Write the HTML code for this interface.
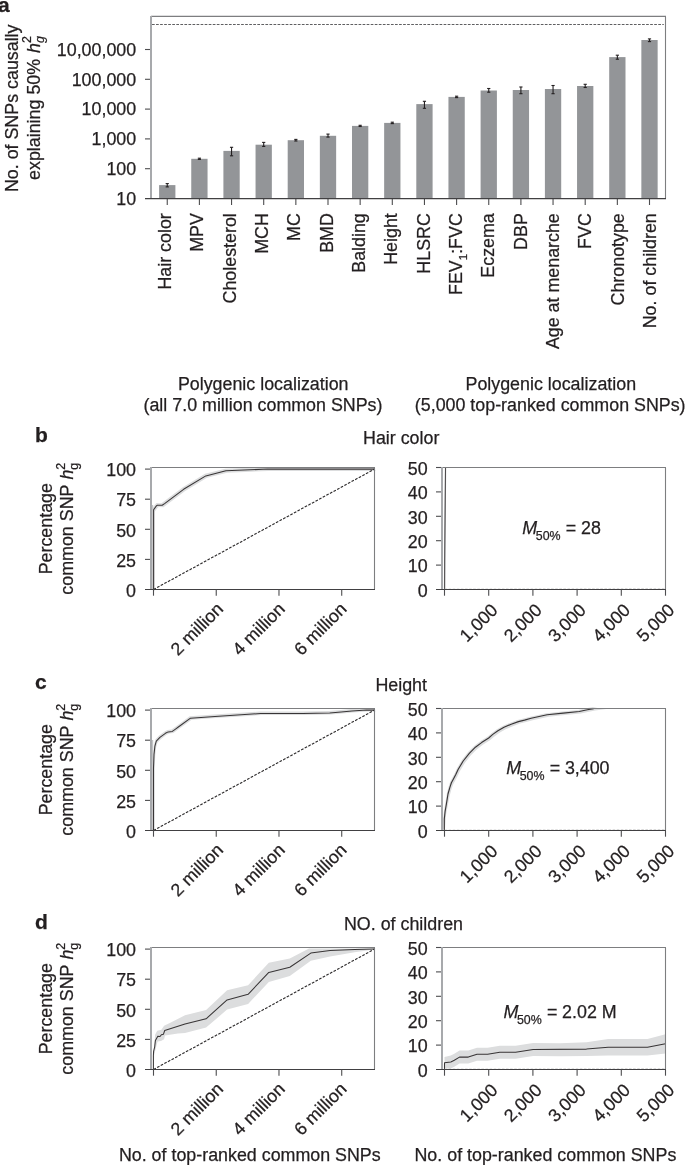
<!DOCTYPE html>
<html><head><meta charset="utf-8"><style>
html,body{margin:0;padding:0;background:#fff;}
body{width:685px;height:1165px;overflow:hidden;}
svg{display:block;will-change:transform;font-family:"Liberation Sans",sans-serif;font-size:17.85px;font-kerning:none;}
svg text{fill:#231f20;stroke:#231f20;stroke-width:0.25px;}
</style></head><body>
<svg width="685" height="1165" viewBox="0 0 685 1165">
<rect width="685" height="1165" fill="#fff"/>
<text x="-2.00" y="11.80" font-size="21" font-weight="bold">a</text>
<line x1="152.00" y1="24.50" x2="663.80" y2="24.50" stroke="#5f5f61" stroke-width="1.1" stroke-dasharray="2.7 1.35"/>
<rect x="159.10" y="185.10" width="16.3" height="13.50" fill="#939598"/>
<line x1="167.25" y1="183.60" x2="167.25" y2="186.90" stroke="#231f20" stroke-width="1.1"/>
<line x1="165.65" y1="183.60" x2="168.85" y2="183.60" stroke="#231f20" stroke-width="1.1"/>
<line x1="165.65" y1="186.90" x2="168.85" y2="186.90" stroke="#231f20" stroke-width="1.1"/>
<line x1="167.25" y1="198.60" x2="167.25" y2="205.00" stroke="#4d4d4f" stroke-width="1.1"/>
<text transform="translate(170.90,213.2) rotate(-90)" text-anchor="end">Hair color</text>
<rect x="191.25" y="158.80" width="16.3" height="39.80" fill="#939598"/>
<line x1="199.40" y1="158.20" x2="199.40" y2="159.40" stroke="#231f20" stroke-width="1.1"/>
<line x1="197.80" y1="158.20" x2="201.00" y2="158.20" stroke="#231f20" stroke-width="1.1"/>
<line x1="197.80" y1="159.40" x2="201.00" y2="159.40" stroke="#231f20" stroke-width="1.1"/>
<line x1="199.40" y1="198.60" x2="199.40" y2="205.00" stroke="#4d4d4f" stroke-width="1.1"/>
<text transform="translate(203.25,213.2) rotate(-90)" text-anchor="end">MPV</text>
<rect x="223.40" y="150.90" width="16.3" height="47.70" fill="#939598"/>
<line x1="231.55" y1="147.30" x2="231.55" y2="155.80" stroke="#231f20" stroke-width="1.1"/>
<line x1="229.95" y1="147.30" x2="233.15" y2="147.30" stroke="#231f20" stroke-width="1.1"/>
<line x1="229.95" y1="155.80" x2="233.15" y2="155.80" stroke="#231f20" stroke-width="1.1"/>
<line x1="231.55" y1="198.60" x2="231.55" y2="205.00" stroke="#4d4d4f" stroke-width="1.1"/>
<text transform="translate(235.60,213.2) rotate(-90)" text-anchor="end">Cholesterol</text>
<rect x="255.55" y="144.70" width="16.3" height="53.90" fill="#939598"/>
<line x1="263.70" y1="142.40" x2="263.70" y2="146.40" stroke="#231f20" stroke-width="1.1"/>
<line x1="262.10" y1="142.40" x2="265.30" y2="142.40" stroke="#231f20" stroke-width="1.1"/>
<line x1="262.10" y1="146.40" x2="265.30" y2="146.40" stroke="#231f20" stroke-width="1.1"/>
<line x1="263.70" y1="198.60" x2="263.70" y2="205.00" stroke="#4d4d4f" stroke-width="1.1"/>
<text transform="translate(267.95,213.2) rotate(-90)" text-anchor="end">MCH</text>
<rect x="287.70" y="140.20" width="16.3" height="58.40" fill="#939598"/>
<line x1="295.85" y1="139.40" x2="295.85" y2="141.00" stroke="#231f20" stroke-width="1.1"/>
<line x1="294.25" y1="139.40" x2="297.45" y2="139.40" stroke="#231f20" stroke-width="1.1"/>
<line x1="294.25" y1="141.00" x2="297.45" y2="141.00" stroke="#231f20" stroke-width="1.1"/>
<line x1="295.85" y1="198.60" x2="295.85" y2="205.00" stroke="#4d4d4f" stroke-width="1.1"/>
<text transform="translate(300.30,213.2) rotate(-90)" text-anchor="end">MC</text>
<rect x="319.85" y="135.80" width="16.3" height="62.80" fill="#939598"/>
<line x1="328.00" y1="134.10" x2="328.00" y2="137.10" stroke="#231f20" stroke-width="1.1"/>
<line x1="326.40" y1="134.10" x2="329.60" y2="134.10" stroke="#231f20" stroke-width="1.1"/>
<line x1="326.40" y1="137.10" x2="329.60" y2="137.10" stroke="#231f20" stroke-width="1.1"/>
<line x1="328.00" y1="198.60" x2="328.00" y2="205.00" stroke="#4d4d4f" stroke-width="1.1"/>
<text transform="translate(332.65,213.2) rotate(-90)" text-anchor="end">BMD</text>
<rect x="352.00" y="125.90" width="16.3" height="72.70" fill="#939598"/>
<line x1="360.15" y1="125.30" x2="360.15" y2="126.50" stroke="#231f20" stroke-width="1.1"/>
<line x1="358.55" y1="125.30" x2="361.75" y2="125.30" stroke="#231f20" stroke-width="1.1"/>
<line x1="358.55" y1="126.50" x2="361.75" y2="126.50" stroke="#231f20" stroke-width="1.1"/>
<line x1="360.15" y1="198.60" x2="360.15" y2="205.00" stroke="#4d4d4f" stroke-width="1.1"/>
<text transform="translate(365.00,213.2) rotate(-90)" text-anchor="end">Balding</text>
<rect x="384.15" y="122.90" width="16.3" height="75.70" fill="#939598"/>
<line x1="392.30" y1="122.20" x2="392.30" y2="123.60" stroke="#231f20" stroke-width="1.1"/>
<line x1="390.70" y1="122.20" x2="393.90" y2="122.20" stroke="#231f20" stroke-width="1.1"/>
<line x1="390.70" y1="123.60" x2="393.90" y2="123.60" stroke="#231f20" stroke-width="1.1"/>
<line x1="392.30" y1="198.60" x2="392.30" y2="205.00" stroke="#4d4d4f" stroke-width="1.1"/>
<text transform="translate(397.35,213.2) rotate(-90)" text-anchor="end">Height</text>
<rect x="416.30" y="104.10" width="16.3" height="94.50" fill="#939598"/>
<line x1="424.45" y1="101.30" x2="424.45" y2="108.30" stroke="#231f20" stroke-width="1.1"/>
<line x1="422.85" y1="101.30" x2="426.05" y2="101.30" stroke="#231f20" stroke-width="1.1"/>
<line x1="422.85" y1="108.30" x2="426.05" y2="108.30" stroke="#231f20" stroke-width="1.1"/>
<line x1="424.45" y1="198.60" x2="424.45" y2="205.00" stroke="#4d4d4f" stroke-width="1.1"/>
<text transform="translate(429.70,213.2) rotate(-90)" text-anchor="end">HLSRC</text>
<rect x="448.45" y="96.90" width="16.3" height="101.70" fill="#939598"/>
<line x1="456.60" y1="96.20" x2="456.60" y2="97.60" stroke="#231f20" stroke-width="1.1"/>
<line x1="455.00" y1="96.20" x2="458.20" y2="96.20" stroke="#231f20" stroke-width="1.1"/>
<line x1="455.00" y1="97.60" x2="458.20" y2="97.60" stroke="#231f20" stroke-width="1.1"/>
<line x1="456.60" y1="198.60" x2="456.60" y2="205.00" stroke="#4d4d4f" stroke-width="1.1"/>
<text transform="translate(462.05,213.2) rotate(-90)" text-anchor="end">FEV<tspan font-size="11.5" dy="5.0">1</tspan><tspan dy="-5.0">:FVC</tspan></text>
<rect x="480.60" y="90.50" width="16.3" height="108.10" fill="#939598"/>
<line x1="488.75" y1="88.50" x2="488.75" y2="92.20" stroke="#231f20" stroke-width="1.1"/>
<line x1="487.15" y1="88.50" x2="490.35" y2="88.50" stroke="#231f20" stroke-width="1.1"/>
<line x1="487.15" y1="92.20" x2="490.35" y2="92.20" stroke="#231f20" stroke-width="1.1"/>
<line x1="488.75" y1="198.60" x2="488.75" y2="205.00" stroke="#4d4d4f" stroke-width="1.1"/>
<text transform="translate(494.40,213.2) rotate(-90)" text-anchor="end">Eczema</text>
<rect x="512.75" y="90.00" width="16.3" height="108.60" fill="#939598"/>
<line x1="520.90" y1="87.00" x2="520.90" y2="93.70" stroke="#231f20" stroke-width="1.1"/>
<line x1="519.30" y1="87.00" x2="522.50" y2="87.00" stroke="#231f20" stroke-width="1.1"/>
<line x1="519.30" y1="93.70" x2="522.50" y2="93.70" stroke="#231f20" stroke-width="1.1"/>
<line x1="520.90" y1="198.60" x2="520.90" y2="205.00" stroke="#4d4d4f" stroke-width="1.1"/>
<text transform="translate(526.75,213.2) rotate(-90)" text-anchor="end">DBP</text>
<rect x="544.90" y="89.00" width="16.3" height="109.60" fill="#939598"/>
<line x1="553.05" y1="85.50" x2="553.05" y2="93.70" stroke="#231f20" stroke-width="1.1"/>
<line x1="551.45" y1="85.50" x2="554.65" y2="85.50" stroke="#231f20" stroke-width="1.1"/>
<line x1="551.45" y1="93.70" x2="554.65" y2="93.70" stroke="#231f20" stroke-width="1.1"/>
<line x1="553.05" y1="198.60" x2="553.05" y2="205.00" stroke="#4d4d4f" stroke-width="1.1"/>
<text transform="translate(559.10,213.2) rotate(-90)" text-anchor="end">Age at menarche</text>
<rect x="577.05" y="86.00" width="16.3" height="112.60" fill="#939598"/>
<line x1="585.20" y1="84.30" x2="585.20" y2="87.50" stroke="#231f20" stroke-width="1.1"/>
<line x1="583.60" y1="84.30" x2="586.80" y2="84.30" stroke="#231f20" stroke-width="1.1"/>
<line x1="583.60" y1="87.50" x2="586.80" y2="87.50" stroke="#231f20" stroke-width="1.1"/>
<line x1="585.20" y1="198.60" x2="585.20" y2="205.00" stroke="#4d4d4f" stroke-width="1.1"/>
<text transform="translate(591.45,213.2) rotate(-90)" text-anchor="end">FVC</text>
<rect x="609.20" y="57.10" width="16.3" height="141.50" fill="#939598"/>
<line x1="617.35" y1="55.20" x2="617.35" y2="59.20" stroke="#231f20" stroke-width="1.1"/>
<line x1="615.75" y1="55.20" x2="618.95" y2="55.20" stroke="#231f20" stroke-width="1.1"/>
<line x1="615.75" y1="59.20" x2="618.95" y2="59.20" stroke="#231f20" stroke-width="1.1"/>
<line x1="617.35" y1="198.60" x2="617.35" y2="205.00" stroke="#4d4d4f" stroke-width="1.1"/>
<text transform="translate(623.80,213.2) rotate(-90)" text-anchor="end">Chronotype</text>
<rect x="641.35" y="40.00" width="16.3" height="158.60" fill="#939598"/>
<line x1="649.50" y1="38.90" x2="649.50" y2="41.60" stroke="#231f20" stroke-width="1.1"/>
<line x1="647.90" y1="38.90" x2="651.10" y2="38.90" stroke="#231f20" stroke-width="1.1"/>
<line x1="647.90" y1="41.60" x2="651.10" y2="41.60" stroke="#231f20" stroke-width="1.1"/>
<line x1="649.50" y1="198.60" x2="649.50" y2="205.00" stroke="#4d4d4f" stroke-width="1.1"/>
<text transform="translate(656.15,213.2) rotate(-90)" text-anchor="end">No. of children</text>
<line x1="151.00" y1="16.40" x2="666.00" y2="16.40" stroke="#7d7e80" stroke-width="1.1"/>
<line x1="665.50" y1="16.40" x2="665.50" y2="198.60" stroke="#7d7e80" stroke-width="1.1"/>
<line x1="151.00" y1="15.90" x2="151.00" y2="198.60" stroke="#a7a9ac" stroke-width="2.0"/>
<line x1="145.00" y1="198.60" x2="666.00" y2="198.60" stroke="#414042" stroke-width="1.15"/>
<text x="136.20" y="204.80" text-anchor="end">10</text>
<line x1="145.00" y1="168.70" x2="150.00" y2="168.70" stroke="#4d4d4f" stroke-width="1.1"/>
<text x="136.20" y="175.00" text-anchor="end">100</text>
<line x1="145.00" y1="138.90" x2="150.00" y2="138.90" stroke="#4d4d4f" stroke-width="1.1"/>
<text x="136.20" y="145.20" text-anchor="end">1,000</text>
<line x1="145.00" y1="109.10" x2="150.00" y2="109.10" stroke="#4d4d4f" stroke-width="1.1"/>
<text x="136.20" y="115.40" text-anchor="end">10,000</text>
<line x1="145.00" y1="79.30" x2="150.00" y2="79.30" stroke="#4d4d4f" stroke-width="1.1"/>
<text x="136.20" y="85.60" text-anchor="end">100,000</text>
<line x1="145.00" y1="49.50" x2="150.00" y2="49.50" stroke="#4d4d4f" stroke-width="1.1"/>
<text x="136.20" y="55.80" text-anchor="end">10,00,000</text>
<text transform="translate(18.1,108.3) rotate(-90)" text-anchor="middle">No. of SNPs causally</text>
<text transform="translate(39.8,108.0) rotate(-90)" text-anchor="middle">explaining 50% <tspan font-style="italic" dx="1.0">h</tspan><tspan font-size="12.4" dy="-8.5">2</tspan><tspan font-size="12.4" font-style="italic" dy="12.5" dx="-6.9">g</tspan></text>
<text x="263.20" y="390.20" text-anchor="middle">Polygenic localization</text>
<text x="263.00" y="411.40" text-anchor="middle">(all 7.0 million common SNPs)</text>
<text x="550.80" y="390.20" text-anchor="middle">Polygenic localization</text>
<text x="550.20" y="411.40" text-anchor="middle">(5,000 top-ranked common SNPs)</text>
<text x="35.00" y="441.90" font-size="21" font-weight="bold">b</text>
<text x="401.20" y="444.20" text-anchor="middle">Hair color</text>
<rect x="152" y="505" width="1.2" height="84.5" fill="#c4c5c7"/><path d="M152.80,587.40 L152.80,507.70 L153.60,506.50 L154.50,505.30 L155.50,503.90 L156.60,503.10 L161.40,503.20 L163.80,501.50 L182.80,487.20 L205.00,473.80 L225.10,468.70 L249.20,467.70 L266.80,467.00 L373.70,467.00 L375.70,471.00 L268.80,471.00 L251.20,471.70 L227.10,472.70 L207.00,477.80 L184.80,491.20 L165.80,505.50 L163.40,507.20 L158.60,507.10 L157.50,507.90 L156.50,509.30 L155.60,510.50 L154.80,511.70 L154.80,591.40 Z" fill="#dcddde" stroke="none"/><path d="M153.60,589.50 L153.60,509.80 L154.40,508.60 L155.30,507.40 L156.30,506.00 L157.40,505.20 L162.20,505.30 L164.60,503.60 L183.60,489.30 L205.80,475.90 L225.90,470.80 L250.00,469.80 L267.60,469.10 L374.50,469.10" fill="none" stroke="#383536" stroke-width="1.05" stroke-linejoin="round"/>
<line x1="153.50" y1="589.50" x2="374.50" y2="469.10" stroke="#2e2c2d" stroke-width="1.15" stroke-dasharray="2.7 1.4"/>
<line x1="151.00" y1="467.50" x2="375.00" y2="467.50" stroke="#7d7e80" stroke-width="1.1"/>
<line x1="374.50" y1="467.50" x2="374.50" y2="589.50" stroke="#7d7e80" stroke-width="1.1"/>
<line x1="151.00" y1="467.00" x2="151.00" y2="589.50" stroke="#a7a9ac" stroke-width="2.0"/>
<line x1="145.00" y1="589.50" x2="375.00" y2="589.50" stroke="#414042" stroke-width="1.15"/>
<text x="136.00" y="596.70" text-anchor="end">0</text>
<line x1="145.00" y1="559.40" x2="150.00" y2="559.40" stroke="#4d4d4f" stroke-width="1.1"/>
<text x="136.00" y="566.60" text-anchor="end">25</text>
<line x1="145.00" y1="529.30" x2="150.00" y2="529.30" stroke="#4d4d4f" stroke-width="1.1"/>
<text x="136.00" y="536.50" text-anchor="end">50</text>
<line x1="145.00" y1="499.20" x2="150.00" y2="499.20" stroke="#4d4d4f" stroke-width="1.1"/>
<text x="136.00" y="506.40" text-anchor="end">75</text>
<line x1="145.00" y1="469.10" x2="150.00" y2="469.10" stroke="#4d4d4f" stroke-width="1.1"/>
<text x="136.00" y="476.30" text-anchor="end">100</text>
<line x1="153.50" y1="589.50" x2="153.50" y2="595.70" stroke="#4d4d4f" stroke-width="1.1"/>
<line x1="216.24" y1="589.50" x2="216.24" y2="595.70" stroke="#4d4d4f" stroke-width="1.1"/>
<text transform="translate(224.34,610.10) rotate(-45)" text-anchor="end">2 million</text>
<line x1="278.98" y1="589.50" x2="278.98" y2="595.70" stroke="#4d4d4f" stroke-width="1.1"/>
<text transform="translate(286.08,610.10) rotate(-45)" text-anchor="end">4 million</text>
<line x1="341.72" y1="589.50" x2="341.72" y2="595.70" stroke="#4d4d4f" stroke-width="1.1"/>
<text transform="translate(347.82,610.10) rotate(-45)" text-anchor="end">6 million</text>
<text transform="translate(52.0,528.70) rotate(-90)" text-anchor="middle">Percentage</text>
<text transform="translate(73.2,528.70) rotate(-90)" text-anchor="middle">common SNP <tspan font-style="italic">h</tspan><tspan font-size="12.4" dy="-8">2</tspan><tspan font-size="12.4" dy="12.8" dx="-6.9">g</tspan></text>
<path d="M443.9,589.5 L444.2,540 L444.9,468 L446.2,468 L445.6,540 L445.2,589.5 Z" fill="#b8b9bb"/><path d="M444.60,589.50 L444.70,560.00 L445.50,468.00" fill="none" stroke="#4a4748" stroke-width="1.0" stroke-linejoin="round"/>
<line x1="444.50" y1="589.20" x2="665.50" y2="588.90" stroke="#b0b0b0" stroke-width="0.8" stroke-dasharray="2.6 1.5"/>
<line x1="442.00" y1="467.50" x2="666.00" y2="467.50" stroke="#7d7e80" stroke-width="1.1"/>
<line x1="665.50" y1="467.50" x2="665.50" y2="589.50" stroke="#7d7e80" stroke-width="1.1"/>
<line x1="442.00" y1="467.00" x2="442.00" y2="589.50" stroke="#a7a9ac" stroke-width="2.0"/>
<line x1="436.00" y1="589.50" x2="666.00" y2="589.50" stroke="#414042" stroke-width="1.15"/>
<text x="427.70" y="596.70" text-anchor="end">0</text>
<line x1="436.00" y1="565.10" x2="441.00" y2="565.10" stroke="#4d4d4f" stroke-width="1.1"/>
<text x="427.70" y="572.30" text-anchor="end">10</text>
<line x1="436.00" y1="540.70" x2="441.00" y2="540.70" stroke="#4d4d4f" stroke-width="1.1"/>
<text x="427.70" y="547.90" text-anchor="end">20</text>
<line x1="436.00" y1="516.30" x2="441.00" y2="516.30" stroke="#4d4d4f" stroke-width="1.1"/>
<text x="427.70" y="523.50" text-anchor="end">30</text>
<line x1="436.00" y1="491.90" x2="441.00" y2="491.90" stroke="#4d4d4f" stroke-width="1.1"/>
<text x="427.70" y="499.10" text-anchor="end">40</text>
<line x1="436.00" y1="467.50" x2="441.00" y2="467.50" stroke="#4d4d4f" stroke-width="1.1"/>
<text x="427.70" y="474.70" text-anchor="end">50</text>
<line x1="444.50" y1="589.50" x2="444.50" y2="595.70" stroke="#4d4d4f" stroke-width="1.1"/>
<line x1="488.70" y1="589.50" x2="488.70" y2="595.70" stroke="#4d4d4f" stroke-width="1.1"/>
<text transform="translate(498.70,611.30) rotate(-45)" text-anchor="end">1,000</text>
<line x1="532.90" y1="589.50" x2="532.90" y2="595.70" stroke="#4d4d4f" stroke-width="1.1"/>
<text transform="translate(542.90,611.30) rotate(-45)" text-anchor="end">2,000</text>
<line x1="577.10" y1="589.50" x2="577.10" y2="595.70" stroke="#4d4d4f" stroke-width="1.1"/>
<text transform="translate(587.10,611.30) rotate(-45)" text-anchor="end">3,000</text>
<line x1="621.30" y1="589.50" x2="621.30" y2="595.70" stroke="#4d4d4f" stroke-width="1.1"/>
<text transform="translate(631.30,611.30) rotate(-45)" text-anchor="end">4,000</text>
<line x1="665.50" y1="589.50" x2="665.50" y2="595.70" stroke="#4d4d4f" stroke-width="1.1"/>
<text transform="translate(675.50,611.30) rotate(-45)" text-anchor="end">5,000</text>
<text x="522.30" y="533.90" font-style="italic">M</text>
<text x="535.80" y="539.70" font-size="12.4">50%</text>
<text x="565.80" y="533.90">=</text>
<text x="581.00" y="533.90">28</text>
<text x="35.00" y="689.40" font-size="21" font-weight="bold">c</text>
<text x="401.20" y="690.70" text-anchor="middle">Height</text>
<rect x="152" y="740" width="1.2" height="90.5" fill="#c4c5c7"/><path d="M152.70,828.60 L152.70,766.10 L153.00,758.10 L153.20,752.50 L154.10,744.20 L155.50,739.20 L159.10,735.50 L164.60,731.40 L167.40,730.00 L171.50,729.50 L174.70,727.20 L177.20,725.40 L189.70,716.30 L214.20,714.60 L259.80,711.60 L301.90,711.60 L328.90,711.10 L340.30,710.00 L351.10,709.00 L365.70,708.20 L373.70,708.20 L375.70,711.60 L367.70,711.60 L353.10,712.40 L342.30,713.40 L330.90,714.50 L303.90,715.00 L261.80,715.00 L216.20,718.00 L191.70,719.70 L179.20,728.80 L176.70,730.60 L173.50,732.90 L169.40,733.40 L166.60,734.80 L161.10,738.90 L157.50,742.60 L156.10,747.60 L155.20,755.90 L155.00,761.50 L154.70,769.50 L154.70,832.00 Z" fill="#dcddde" stroke="none"/><path d="M153.50,830.50 L153.50,768.00 L153.80,760.00 L154.00,754.40 L154.90,746.10 L156.30,741.10 L159.90,737.40 L165.40,733.30 L168.20,731.90 L172.30,731.40 L175.50,729.10 L178.00,727.30 L190.50,718.20 L215.00,716.50 L260.60,713.50 L302.70,713.50 L329.70,713.00 L341.10,711.90 L351.90,710.90 L366.50,710.10 L374.50,710.10" fill="none" stroke="#383536" stroke-width="1.05" stroke-linejoin="round"/>
<line x1="153.50" y1="830.50" x2="374.50" y2="710.10" stroke="#2e2c2d" stroke-width="1.15" stroke-dasharray="2.7 1.4"/>
<line x1="151.00" y1="708.50" x2="375.00" y2="708.50" stroke="#7d7e80" stroke-width="1.1"/>
<line x1="374.50" y1="708.50" x2="374.50" y2="830.50" stroke="#7d7e80" stroke-width="1.1"/>
<line x1="151.00" y1="708.00" x2="151.00" y2="830.50" stroke="#a7a9ac" stroke-width="2.0"/>
<line x1="145.00" y1="830.50" x2="375.00" y2="830.50" stroke="#414042" stroke-width="1.15"/>
<text x="136.00" y="837.70" text-anchor="end">0</text>
<line x1="145.00" y1="800.40" x2="150.00" y2="800.40" stroke="#4d4d4f" stroke-width="1.1"/>
<text x="136.00" y="807.60" text-anchor="end">25</text>
<line x1="145.00" y1="770.30" x2="150.00" y2="770.30" stroke="#4d4d4f" stroke-width="1.1"/>
<text x="136.00" y="777.50" text-anchor="end">50</text>
<line x1="145.00" y1="740.20" x2="150.00" y2="740.20" stroke="#4d4d4f" stroke-width="1.1"/>
<text x="136.00" y="747.40" text-anchor="end">75</text>
<line x1="145.00" y1="710.10" x2="150.00" y2="710.10" stroke="#4d4d4f" stroke-width="1.1"/>
<text x="136.00" y="717.30" text-anchor="end">100</text>
<line x1="153.50" y1="830.50" x2="153.50" y2="836.70" stroke="#4d4d4f" stroke-width="1.1"/>
<line x1="216.24" y1="830.50" x2="216.24" y2="836.70" stroke="#4d4d4f" stroke-width="1.1"/>
<text transform="translate(224.34,851.10) rotate(-45)" text-anchor="end">2 million</text>
<line x1="278.98" y1="830.50" x2="278.98" y2="836.70" stroke="#4d4d4f" stroke-width="1.1"/>
<text transform="translate(286.08,851.10) rotate(-45)" text-anchor="end">4 million</text>
<line x1="341.72" y1="830.50" x2="341.72" y2="836.70" stroke="#4d4d4f" stroke-width="1.1"/>
<text transform="translate(347.82,851.10) rotate(-45)" text-anchor="end">6 million</text>
<text transform="translate(52.0,769.70) rotate(-90)" text-anchor="middle">Percentage</text>
<text transform="translate(73.2,769.70) rotate(-90)" text-anchor="middle">common SNP <tspan font-style="italic">h</tspan><tspan font-size="12.4" dy="-8">2</tspan><tspan font-size="12.4" dy="12.8" dx="-6.9">g</tspan></text>
<path d="M443.30,829.00 L443.30,817.50 L444.10,810.00 L445.40,802.50 L447.00,792.50 L448.80,786.10 L450.40,781.30 L452.30,777.80 L454.80,773.10 L457.10,768.00 L462.20,759.50 L468.30,751.80 L474.40,745.70 L480.60,741.10 L487.70,736.50 L491.80,732.90 L496.90,729.30 L503.00,725.80 L510.20,722.70 L517.40,720.10 L523.50,718.60 L530.10,716.80 L546.10,713.30 L562.20,711.60 L578.20,710.00 L586.30,708.30 L592.70,707.10 L600.00,708.40 L609.70,708.40 L595.30,710.60 L588.90,711.80 L580.80,713.50 L564.80,715.10 L548.70,716.80 L532.70,720.30 L526.10,722.10 L520.00,723.60 L512.80,726.20 L505.60,729.30 L499.50,732.80 L494.40,736.40 L490.30,740.00 L483.20,744.60 L477.00,749.20 L470.90,755.30 L464.80,763.00 L459.70,771.50 L457.40,776.60 L454.90,781.30 L453.00,784.80 L451.40,789.60 L449.60,796.00 L446.00,815.00 L444.90,830.50 Z" fill="#dcddde" stroke="none"/><path d="M444.30,830.50 L444.30,819.00 L445.10,811.50 L446.40,804.00 L448.00,794.00 L449.80,787.60 L451.40,782.80 L453.30,779.30 L455.80,774.60 L458.10,769.50 L463.20,761.00 L469.30,753.30 L475.40,747.20 L481.60,742.60 L488.70,738.00 L492.80,734.40 L497.90,730.80 L504.00,727.30 L511.20,724.20 L518.40,721.60 L524.50,720.10 L531.10,718.30 L547.10,714.80 L563.20,713.10 L579.20,711.50 L587.30,709.80 L593.70,708.60" fill="none" stroke="#383536" stroke-width="1.15" stroke-linejoin="round"/>
<line x1="444.50" y1="830.20" x2="665.50" y2="829.90" stroke="#b0b0b0" stroke-width="0.8" stroke-dasharray="2.6 1.5"/>
<line x1="442.00" y1="708.50" x2="666.00" y2="708.50" stroke="#7d7e80" stroke-width="1.1"/>
<line x1="665.50" y1="708.50" x2="665.50" y2="830.50" stroke="#7d7e80" stroke-width="1.1"/>
<line x1="442.00" y1="708.00" x2="442.00" y2="830.50" stroke="#a7a9ac" stroke-width="2.0"/>
<line x1="436.00" y1="830.50" x2="666.00" y2="830.50" stroke="#414042" stroke-width="1.15"/>
<text x="427.70" y="837.70" text-anchor="end">0</text>
<line x1="436.00" y1="806.10" x2="441.00" y2="806.10" stroke="#4d4d4f" stroke-width="1.1"/>
<text x="427.70" y="813.30" text-anchor="end">10</text>
<line x1="436.00" y1="781.70" x2="441.00" y2="781.70" stroke="#4d4d4f" stroke-width="1.1"/>
<text x="427.70" y="788.90" text-anchor="end">20</text>
<line x1="436.00" y1="757.30" x2="441.00" y2="757.30" stroke="#4d4d4f" stroke-width="1.1"/>
<text x="427.70" y="764.50" text-anchor="end">30</text>
<line x1="436.00" y1="732.90" x2="441.00" y2="732.90" stroke="#4d4d4f" stroke-width="1.1"/>
<text x="427.70" y="740.10" text-anchor="end">40</text>
<line x1="436.00" y1="708.50" x2="441.00" y2="708.50" stroke="#4d4d4f" stroke-width="1.1"/>
<text x="427.70" y="715.70" text-anchor="end">50</text>
<line x1="444.50" y1="830.50" x2="444.50" y2="836.70" stroke="#4d4d4f" stroke-width="1.1"/>
<line x1="488.70" y1="830.50" x2="488.70" y2="836.70" stroke="#4d4d4f" stroke-width="1.1"/>
<text transform="translate(498.70,852.30) rotate(-45)" text-anchor="end">1,000</text>
<line x1="532.90" y1="830.50" x2="532.90" y2="836.70" stroke="#4d4d4f" stroke-width="1.1"/>
<text transform="translate(542.90,852.30) rotate(-45)" text-anchor="end">2,000</text>
<line x1="577.10" y1="830.50" x2="577.10" y2="836.70" stroke="#4d4d4f" stroke-width="1.1"/>
<text transform="translate(587.10,852.30) rotate(-45)" text-anchor="end">3,000</text>
<line x1="621.30" y1="830.50" x2="621.30" y2="836.70" stroke="#4d4d4f" stroke-width="1.1"/>
<text transform="translate(631.30,852.30) rotate(-45)" text-anchor="end">4,000</text>
<line x1="665.50" y1="830.50" x2="665.50" y2="836.70" stroke="#4d4d4f" stroke-width="1.1"/>
<text transform="translate(675.50,852.30) rotate(-45)" text-anchor="end">5,000</text>
<text x="506.20" y="774.40" font-style="italic">M</text>
<text x="519.70" y="780.20" font-size="12.4">50%</text>
<text x="549.70" y="774.40">=</text>
<text x="564.90" y="774.40">3,400</text>
<text x="35.00" y="929.00" font-size="21" font-weight="bold">d</text>
<text x="403.50" y="930.20" text-anchor="middle">NO. of children</text>
<path d="M153.20,1069.50 L153.40,1060.00 L155.10,1034.70 L157.20,1030.70 L161.40,1029.80 L164.10,1025.80 L170.30,1022.70 L175.70,1020.00 L185.00,1015.30 L206.10,1010.10 L227.10,990.30 L248.10,985.20 L268.80,962.80 L289.80,958.40 L309.00,948.60 L374.50,948.40 L374.50,949.40 L354.60,952.30 L330.10,956.60 L310.80,960.70 L289.80,975.90 L268.80,982.00 L248.10,1003.90 L227.10,1009.60 L206.10,1027.60 L185.00,1032.90 L177.90,1033.60 L165.00,1035.60 L164.10,1039.20 L161.00,1041.00 L157.60,1041.40 L156.50,1045.40 L154.20,1055.00 L153.80,1069.50 Z" fill="#dcddde" stroke="none"/><path d="M153.40,1069.50 L153.40,1055.70 L153.60,1051.30 L154.70,1046.80 L155.40,1040.50 L157.40,1037.00 L157.60,1036.30 L160.00,1036.50 L161.40,1034.70 L163.40,1034.30 L164.70,1030.50 L185.00,1024.10 L206.10,1018.80 L227.10,999.90 L248.10,994.30 L268.80,972.40 L289.80,967.20 L310.80,953.10 L330.10,950.60 L354.60,949.60 L374.50,949.10" fill="none" stroke="#383536" stroke-width="1.05" stroke-linejoin="round"/>
<line x1="153.50" y1="1069.50" x2="374.50" y2="949.10" stroke="#2e2c2d" stroke-width="1.15" stroke-dasharray="2.7 1.4"/>
<line x1="151.00" y1="947.50" x2="375.00" y2="947.50" stroke="#7d7e80" stroke-width="1.1"/>
<line x1="374.50" y1="947.50" x2="374.50" y2="1069.50" stroke="#7d7e80" stroke-width="1.1"/>
<line x1="151.00" y1="947.00" x2="151.00" y2="1069.50" stroke="#a7a9ac" stroke-width="2.0"/>
<line x1="145.00" y1="1069.50" x2="375.00" y2="1069.50" stroke="#414042" stroke-width="1.15"/>
<text x="136.00" y="1076.70" text-anchor="end">0</text>
<line x1="145.00" y1="1039.40" x2="150.00" y2="1039.40" stroke="#4d4d4f" stroke-width="1.1"/>
<text x="136.00" y="1046.60" text-anchor="end">25</text>
<line x1="145.00" y1="1009.30" x2="150.00" y2="1009.30" stroke="#4d4d4f" stroke-width="1.1"/>
<text x="136.00" y="1016.50" text-anchor="end">50</text>
<line x1="145.00" y1="979.20" x2="150.00" y2="979.20" stroke="#4d4d4f" stroke-width="1.1"/>
<text x="136.00" y="986.40" text-anchor="end">75</text>
<line x1="145.00" y1="949.10" x2="150.00" y2="949.10" stroke="#4d4d4f" stroke-width="1.1"/>
<text x="136.00" y="956.30" text-anchor="end">100</text>
<line x1="153.50" y1="1069.50" x2="153.50" y2="1075.70" stroke="#4d4d4f" stroke-width="1.1"/>
<line x1="216.24" y1="1069.50" x2="216.24" y2="1075.70" stroke="#4d4d4f" stroke-width="1.1"/>
<text transform="translate(224.34,1090.10) rotate(-45)" text-anchor="end">2 million</text>
<line x1="278.98" y1="1069.50" x2="278.98" y2="1075.70" stroke="#4d4d4f" stroke-width="1.1"/>
<text transform="translate(286.08,1090.10) rotate(-45)" text-anchor="end">4 million</text>
<line x1="341.72" y1="1069.50" x2="341.72" y2="1075.70" stroke="#4d4d4f" stroke-width="1.1"/>
<text transform="translate(347.82,1090.10) rotate(-45)" text-anchor="end">6 million</text>
<text transform="translate(52.0,1008.70) rotate(-90)" text-anchor="middle">Percentage</text>
<text transform="translate(73.2,1008.70) rotate(-90)" text-anchor="middle">common SNP <tspan font-style="italic">h</tspan><tspan font-size="12.4" dy="-8">2</tspan><tspan font-size="12.4" dy="12.8" dx="-6.9">g</tspan></text>
<path d="M444.50,1057.00 L450.80,1055.50 L454.30,1053.80 L459.50,1050.60 L468.30,1050.60 L477.00,1047.80 L487.60,1047.80 L499.80,1045.70 L515.60,1045.70 L533.10,1042.90 L560.00,1043.30 L586.50,1042.30 L608.20,1039.10 L647.50,1039.10 L665.50,1034.30 L665.50,1053.60 L647.50,1055.50 L608.20,1055.50 L586.50,1056.00 L560.00,1056.20 L533.10,1055.90 L515.60,1058.70 L499.80,1058.70 L487.60,1060.80 L477.00,1060.80 L468.30,1063.60 L459.50,1063.60 L454.30,1066.80 L450.80,1068.50 L444.50,1068.20 Z" fill="#dcddde" stroke="none"/><path d="M444.50,1069.50 L444.50,1062.70 L450.80,1062.00 L454.30,1060.30 L459.50,1057.10 L468.30,1057.10 L477.00,1054.30 L487.60,1054.30 L499.80,1052.20 L515.60,1052.20 L533.10,1049.40 L586.50,1049.10 L608.20,1047.20 L647.50,1047.20 L665.50,1043.80" fill="none" stroke="#383536" stroke-width="1.05" stroke-linejoin="round"/>
<line x1="444.50" y1="1069.20" x2="665.50" y2="1068.90" stroke="#b0b0b0" stroke-width="0.8" stroke-dasharray="2.6 1.5"/>
<line x1="442.00" y1="947.50" x2="666.00" y2="947.50" stroke="#7d7e80" stroke-width="1.1"/>
<line x1="665.50" y1="947.50" x2="665.50" y2="1069.50" stroke="#7d7e80" stroke-width="1.1"/>
<line x1="442.00" y1="947.00" x2="442.00" y2="1069.50" stroke="#a7a9ac" stroke-width="2.0"/>
<line x1="436.00" y1="1069.50" x2="666.00" y2="1069.50" stroke="#414042" stroke-width="1.15"/>
<text x="427.70" y="1076.70" text-anchor="end">0</text>
<line x1="436.00" y1="1045.10" x2="441.00" y2="1045.10" stroke="#4d4d4f" stroke-width="1.1"/>
<text x="427.70" y="1052.30" text-anchor="end">10</text>
<line x1="436.00" y1="1020.70" x2="441.00" y2="1020.70" stroke="#4d4d4f" stroke-width="1.1"/>
<text x="427.70" y="1027.90" text-anchor="end">20</text>
<line x1="436.00" y1="996.30" x2="441.00" y2="996.30" stroke="#4d4d4f" stroke-width="1.1"/>
<text x="427.70" y="1003.50" text-anchor="end">30</text>
<line x1="436.00" y1="971.90" x2="441.00" y2="971.90" stroke="#4d4d4f" stroke-width="1.1"/>
<text x="427.70" y="979.10" text-anchor="end">40</text>
<line x1="436.00" y1="947.50" x2="441.00" y2="947.50" stroke="#4d4d4f" stroke-width="1.1"/>
<text x="427.70" y="954.70" text-anchor="end">50</text>
<line x1="444.50" y1="1069.50" x2="444.50" y2="1075.70" stroke="#4d4d4f" stroke-width="1.1"/>
<line x1="488.70" y1="1069.50" x2="488.70" y2="1075.70" stroke="#4d4d4f" stroke-width="1.1"/>
<text transform="translate(498.70,1091.30) rotate(-45)" text-anchor="end">1,000</text>
<line x1="532.90" y1="1069.50" x2="532.90" y2="1075.70" stroke="#4d4d4f" stroke-width="1.1"/>
<text transform="translate(542.90,1091.30) rotate(-45)" text-anchor="end">2,000</text>
<line x1="577.10" y1="1069.50" x2="577.10" y2="1075.70" stroke="#4d4d4f" stroke-width="1.1"/>
<text transform="translate(587.10,1091.30) rotate(-45)" text-anchor="end">3,000</text>
<line x1="621.30" y1="1069.50" x2="621.30" y2="1075.70" stroke="#4d4d4f" stroke-width="1.1"/>
<text transform="translate(631.30,1091.30) rotate(-45)" text-anchor="end">4,000</text>
<line x1="665.50" y1="1069.50" x2="665.50" y2="1075.70" stroke="#4d4d4f" stroke-width="1.1"/>
<text transform="translate(675.50,1091.30) rotate(-45)" text-anchor="end">5,000</text>
<text x="503.40" y="1018.30" font-style="italic">M</text>
<text x="516.90" y="1024.10" font-size="12.4">50%</text>
<text x="546.90" y="1018.30">=</text>
<text x="562.10" y="1018.30">2.02 M</text>
<text x="249.80" y="1160.80" text-anchor="middle">No. of top-ranked common SNPs</text>
<text x="545.40" y="1160.80" text-anchor="middle">No. of top-ranked common SNPs</text>
</svg>
</body></html>
